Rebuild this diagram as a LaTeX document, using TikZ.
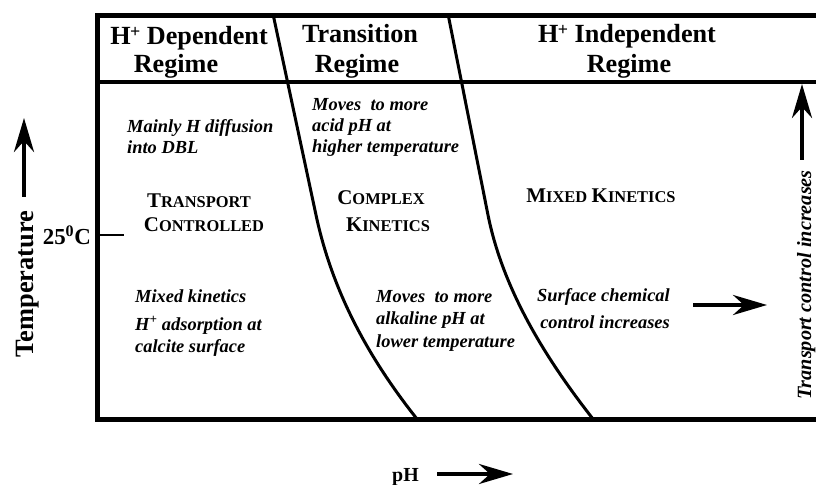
\documentclass[tikz,border=0pt]{standalone}
\usepackage{fontspec}
\setmainfont{Liberation Serif}
\usetikzlibrary{arrows.meta}
\newcommand{\smc}[2]{{\fontsize{21}{21}\selectfont #1}{\fontsize{16.5}{16.5}\selectfont #2}}
\newcommand{\hplus}{H\kern-0.5bp\raisebox{7.5bp}{\fontsize{18}{18}\selectfont +}}
\tikzset{
  hdr/.style={font=\fontsize{26.3}{26.3}\bfseries\selectfont, inner sep=0pt},
  note/.style={font=\fontsize{18.5}{21}\bfseries\itshape\selectfont, inner sep=0pt},
  scl/.style={font=\bfseries, inner sep=0pt},
  axl/.style={font=\fontsize{26.5}{26.5}\bfseries\selectfont, inner sep=0pt},
  frame/.style={line width=5bp, line join=miter},
  bound/.style={line width=3bp},
  bigarrow/.style={line width=4bp, -{Stealth[length=34bp,width=20bp,inset=11bp]}}
}
\begin{document}
\begin{tikzpicture}[x=1bp,y=-1bp]
\useasboundingbox (0,0) rectangle (816,485);
% frame
\draw[frame] (816,16) -- (97,16) -- (97,419) -- (816,419);
\draw[line width=4bp] (97,82) -- (816,82);
% boundaries
\draw[bound] (273,14) -- (316,215) .. controls (332,290) and (367,356) .. (417,419);
\draw[bound] (448,14) -- (488,215) .. controls (503,290) and (546,359) .. (593,419);
% headers
\node[hdr, anchor=base] (h1a) at (189,45) {\hplus{} Dependent};
\node[hdr, anchor=base] (h1b) at (176,73) {Regime};
\node[hdr, anchor=base] (h2a) at (360,43) {Transition};
\node[hdr, anchor=base] (h2b) at (357,73) {Regime};
\node[hdr, anchor=base] (h3a) at (627,43) {\hplus{} Independent};
\node[hdr, anchor=base] (h3b) at (629,73) {Regime};
% left column
\node[note, anchor=base west] (n1a) at (127,133) {Mainly H diffusion};
\node[note, anchor=base west] (n1b) at (127,154) {into DBL};
\node[scl, anchor=base] (s1a) at (199,208) {\smc{T}{RANSPORT}};
\node[scl, anchor=base] (s1b) at (204,232) {\smc{C}{ONTROLLED}};
\node[note, anchor=base west] (n2a) at (135,303) {Mixed kinetics};
\node[note, anchor=base west] (n2b) at (135,330) {H\textsuperscript{+} adsorption at};
\node[note, anchor=base west] (n2c) at (135,352) {calcite surface};
% middle column
\node[note, anchor=base west] (n3a) at (312,111) {Moves\ \ to more};
\node[note, anchor=base west] (n3b) at (312,132) {acid pH at};
\node[note, anchor=base west] (n3c) at (312,153) {higher temperature};
\node[scl, anchor=base] (s2a) at (381,205) {\smc{C}{OMPLEX}};
\node[scl, anchor=base] (s2b) at (388,232) {\smc{K}{INETICS}};
\node[note, anchor=base west] (n4a) at (376,303) {Moves\ \ to more};
\node[note, anchor=base west] (n4b) at (376,325) {alkaline pH at};
\node[note, anchor=base west] (n4c) at (376,347) {lower temperature};
% right column
\node[scl, anchor=base] (s3) at (601,203) {\smc{M}{IXED}\hspace{2bp} \smc{K}{INETICS}};
\node[note, anchor=base east] (n5a) at (670,302) {Surface chemical};
\node[note, anchor=base east] (n5b) at (670,328) {control increases};
\coordinate (sa1) at (693,305);
\coordinate (sa2) at (767,305);
\draw[bigarrow] (sa1) -- (sa2);
% right axis
\node[font=\fontsize{20.3}{20.3}\bfseries\itshape\selectfont, inner sep=0pt, rotate=90, anchor=base] (tc) at (811,285) {Transport control increases};
\coordinate (ra1) at (802,160);
\coordinate (ra2) at (802,84);
\draw[bigarrow] (ra1) -- (ra2);
% left axis
\node[axl, rotate=90, anchor=base] (temp) at (33,284) {Temperature};
\coordinate (ta1) at (24,197);
\coordinate (ta2) at (24,118);
\draw[bigarrow] (ta1) -- (ta2);
\node[font=\fontsize{23}{23}\bfseries\selectfont, inner sep=0pt, anchor=base east] (t25) at (91,245) {25\textsuperscript{0}C};
\coordinate (tk1) at (97,235);
\coordinate (tk2) at (124,235);
\draw[line width=1.8bp] (tk1) -- (tk2);
% bottom axis
\node[font=\fontsize{20}{20}\bfseries\selectfont, inner sep=0pt, anchor=base west] (ph) at (392,481) {pH};
\coordinate (pa1) at (437,474);
\coordinate (pa2) at (513,474);
\draw[bigarrow] (pa1) -- (pa2);
\end{tikzpicture}
\end{document}
